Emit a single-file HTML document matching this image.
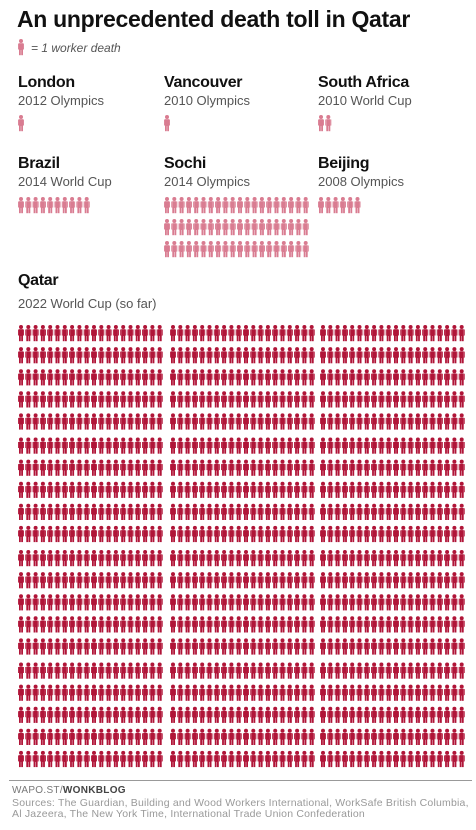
<!DOCTYPE html>
<html><head><meta charset="utf-8">
<style>
body{margin:0;width:476px;height:830px;background:#fff;font-family:"Liberation Sans",sans-serif;position:relative;overflow:hidden}
.t{position:absolute;white-space:nowrap}
.h{font-weight:bold;font-size:16px;color:#111;letter-spacing:-0.3px}
.s{font-size:13px;color:#555}
</style></head><body>
<div class="t" style="left:17px;top:6px;font-size:23px;font-weight:bold;color:#111;letter-spacing:-0.3px">An unprecedented death toll in Qatar</div>
<div class="t" style="left:31px;top:41px;font-size:12px;font-style:italic;color:#555">= 1 worker death</div>
<svg id="chart" width="476" height="830" style="position:absolute;left:0;top:0">
<defs>
<g id="p"><circle cx="3" cy="2" r="2"/><rect x="1" y="4.2" width="4" height="6.8"/><rect x="0" y="4.5" width="0.9" height="6"/><rect x="5.1" y="4.5" width="0.9" height="6"/><rect x="1" y="10.5" width="1.8" height="5.7"/><rect x="3.2" y="10.5" width="1.8" height="5.7"/></g>
</defs>
</svg>
<div id="labels"></div>
<div style="position:absolute;left:9px;top:780px;width:463px;height:1px;background:#999"></div>
<div class="t" style="left:12px;top:785px;font-size:10px;color:#777;letter-spacing:0.3px">WAPO.ST/<b style="color:#444">WONKBLOG</b></div>
<div class="t" style="left:12px;top:798px;font-size:10.5px;color:#999;line-height:11px;letter-spacing:0.2px">Sources: The Guardian, Building and Wood Workers International, WorkSafe British Columbia,<br>Al Jazeera, The New York Time, International Trade Union Confederation</div>
<script>
const events=["London","Vancouver","South Africa","Brazil","Sochi","Beijing","Qatar"];
const subtitles=["2012 Olympics","2010 Olympics","2010 World Cup","2014 World Cup","2014 Olympics","2008 Olympics","2022 World Cup (so far)"];
const deaths=[1,1,2,10,60,6,1200];

const svg=document.getElementById('chart');
const NS='http://www.w3.org/2000/svg';
const lab=document.getElementById('labels');
const colX=[18,164,318];
function person(x,y,color,name){
  const u=document.createElementNS(NS,'use');
  u.setAttribute('href','#p');
  u.setAttribute('x',x);u.setAttribute('y',y);
  u.setAttribute('fill',color);
  
  
  svg.appendChild(u);
}
person(18,39,'#d97c91','legend-icon');
const pitchX=7.3, pitchY=22;
events.forEach((ev,i)=>{
  let lx,ly,iy;
  if(i<6){lx=colX[i%3];ly=i<3?74:155;iy=i<3?115:197;}
  else{lx=18;ly=272;}
  const h=document.createElement('div');
  h.className='t h';h.style.left=lx+'px';h.style.top=ly+'px';h.textContent=ev;
  
  
  lab.appendChild(h);
  const s=document.createElement('div');
  s.className='t s';s.style.left=lx+'px';s.style.top=(ly+(i<6?19:24))+'px';s.textContent=subtitles[i];
  
  
  lab.appendChild(s);
  const n=deaths[i];
  if(i<6){
    for(let k=0;k<n;k++){
      person(lx+(k%20)*pitchX,iy+Math.floor(k/20)*pitchY,'#d97c91','death-icon');
    }
  }else{
    const blocks=[18,170,320];
    for(let k=0;k<n;k++){
      const row=Math.floor(k/60), rem=k%60, b=Math.floor(rem/20), c=rem%20;
      person(blocks[b]+c*pitchX,325+row*22.1+Math.floor(row/5)*2,'#b01538','qatar-death-icon');
    }
  }
});
</script>
</body></html>
